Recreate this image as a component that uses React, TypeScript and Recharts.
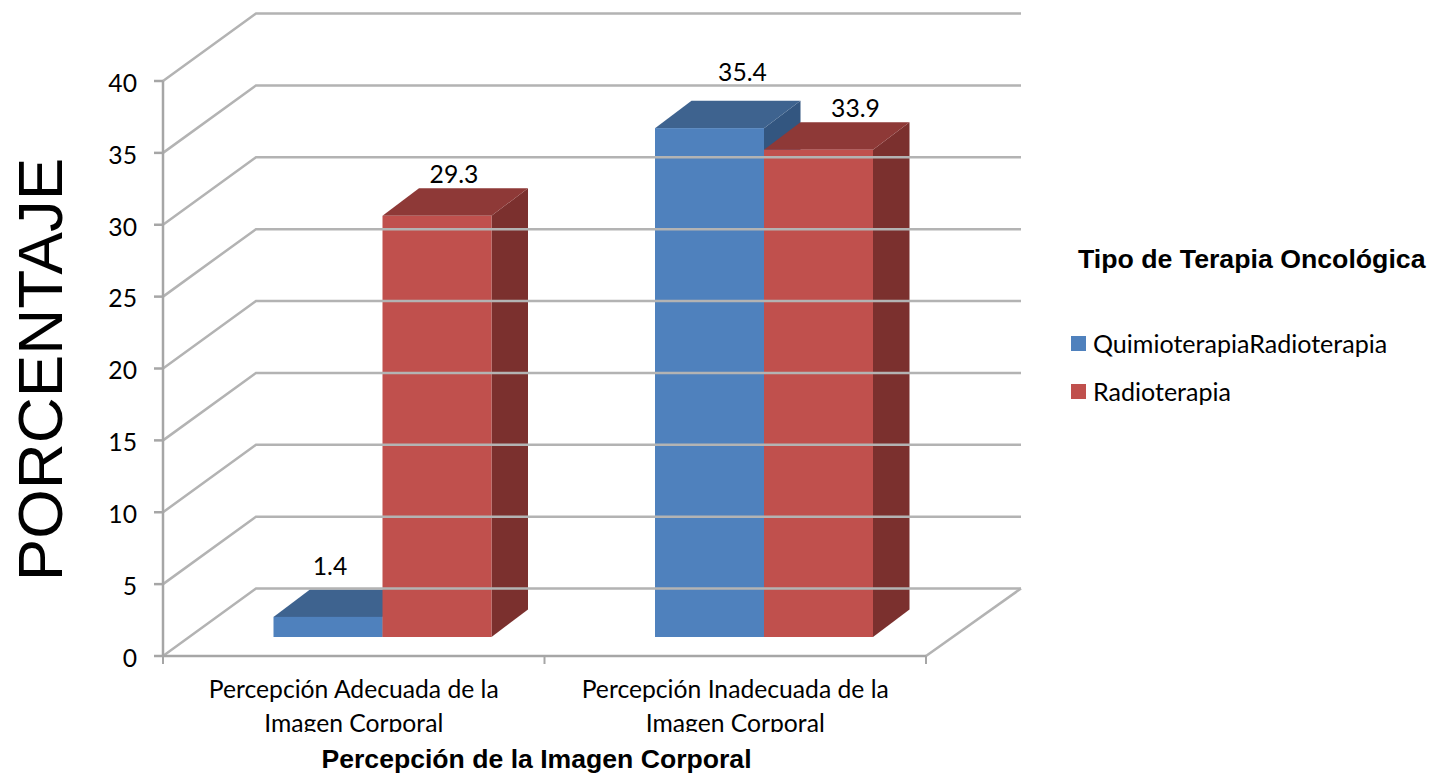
import { BarChart, Bar, XAxis, YAxis, Legend, LabelList, ReferenceLine } from "recharts";

const categories = [
  "Percepción Adecuada de la\nImagen Corporal",
  "Percepción Inadecuada de la\nImagen Corporal",
];
const quimioRadio = [1.4, 35.4];
const radio = [29.3, 33.9];
const yTicks = [0, 5, 10, 15, 20, 25, 30, 35, 40];

const chartData = categories.map((category, i) => ({
  category,
  quimioRadio: quimioRadio[i],
  radio: radio[i],
}));

const BODY_FONT = "Lato, sans-serif";
const TITLE_FONT = "'Liberation Sans', Arial, sans-serif";
const BODY_SIZE = 24.7;
const GRID = "#b3b3b3";
const AXIS = "#a6a6a6";

// fake 3D: how far the back wall and the bars sit behind the axis plane
const WALL_DX = 93;
const WALL_DY = -67.5;
const WALL_RIGHT_DX = 95;
const BAR_DX = 28.5;
const BAR_DY = -19;
const DEPTH_DX = 36.5;
const DEPTH_DY = -27.5;
const BAND_HALF = 190.75;

const blue = { front: "#4f81bd", top: "#3e638f", side: "#335680" };
const red = { front: "#c0504d", top: "#8e3937", side: "#7b302e" };

// label nudges from the bar's top centre, [series][category]
const blueNudge = [[2, -48.5], [33, -53.5]];
const redNudge = [[17, -39.5], [37, -38.5]];

function bar3d(colors: typeof blue) {
  return (props: any) => {
    const x = props.x + BAR_DX;
    const y = props.y + BAR_DY;
    const w = props.width;
    const h = props.height;
    const dx = DEPTH_DX;
    const dy = DEPTH_DY;
    return (
      <g>
        <polygon
          points={`${x + w},${y} ${x + w + dx},${y + dy} ${x + w + dx},${y + h + dy} ${x + w},${y + h}`}
          fill={colors.side}
        />
        <polygon
          points={`${x},${y} ${x + dx},${y + dy} ${x + w + dx},${y + dy} ${x + w},${y}`}
          fill={colors.top}
        />
        <rect x={x} y={y} width={w} height={h} fill={colors.front} />
      </g>
    );
  };
}

function wallLine(isFloor: boolean) {
  return (props: any) => {
    const { x1, y1, x2 } = props;
    const backY = y1 + WALL_DY;
    return (
      <g fill="none" stroke={GRID} strokeWidth={2.5}>
        <polyline points={`${x1},${y1} ${x1 + WALL_DX},${backY} ${x2 + WALL_RIGHT_DX},${backY}`} />
        {isFloor && <line x1={x2} y1={y1} x2={x2 + WALL_RIGHT_DX} y2={backY} />}
      </g>
    );
  };
}

function valueLabel(nudges: number[][]) {
  return (props: any) => {
    const { x, y, width, value, index } = props;
    const [nx, ny] = nudges[index];
    return (
      <text
        x={x + BAR_DX + width / 2 + nx}
        y={y + BAR_DY + ny}
        textAnchor="middle"
        dominantBaseline="middle"
        fontFamily={BODY_FONT}
        fontSize={BODY_SIZE}
        fill="#000"
      >
        {value}
      </text>
    );
  };
}

function CategoryTick(props: any) {
  const { x, y, payload, index } = props;
  const lines = String(payload.value).split("\n");
  const axisY = y - 8;
  return (
    <g>
      <line x1={x - BAND_HALF} y1={axisY} x2={x - BAND_HALF} y2={axisY + 8} stroke={AXIS} strokeWidth={2} />
      {index === categories.length - 1 && (
        <line x1={x + BAND_HALF} y1={axisY} x2={x + BAND_HALF} y2={axisY + 8} stroke={AXIS} strokeWidth={2} />
      )}
      <text
        textAnchor="middle"
        fontFamily={BODY_FONT}
        fontSize={BODY_SIZE}
        fill="#000"
        clipPath="url(#tick-clip)"
      >
        <tspan x={x} y={698}>{lines[0]}</tspan>
        <tspan x={x} y={732}>{lines[1]}</tspan>
      </text>
    </g>
  );
}

function LegendBox(props: any) {
  const { payload } = props;
  return (
    <div style={{ position: "relative", width: 360, height: 170 }}>
      <div
        style={{
          position: "absolute",
          left: 7,
          top: 0,
          fontFamily: TITLE_FONT,
          fontWeight: "bold",
          fontSize: 26.7,
          lineHeight: "28px",
          color: "#000",
          whiteSpace: "nowrap",
        }}
      >
        Tipo de Terapia Oncológica
      </div>
      {payload.map((item: any, i: number) => (
        <div key={item.value} style={{ position: "absolute", left: 0, top: 84 + i * 48, display: "flex", alignItems: "center", height: 28 }}>
          <span style={{ width: 15, height: 15, background: item.color, marginRight: 7 }} />
          <span style={{ fontFamily: BODY_FONT, fontSize: 25.05, color: "#000", whiteSpace: "nowrap" }}>{item.value}</span>
        </div>
      ))}
    </div>
  );
}

export default function App() {
  return (
    <div style={{ position: "absolute", left: 0, top: 0, width: 1431, height: 776, background: "#fff" }}>
      <BarChart
        width={1431}
        height={776}
        data={chartData}
        margin={{ top: 81, right: 505, bottom: 0, left: 0 }}
        barSize={109}
        barGap={0}
        barCategoryGap={0}
      >
        <defs>
          <clipPath id="tick-clip">
            <rect x={0} y={670} width={1431} height={62} />
          </clipPath>
        </defs>
        {yTicks.map((t) => (
          <ReferenceLine key={t} y={t} ifOverflow="visible" shape={wallLine(t === 0)} />
        ))}
        <XAxis
          dataKey="category"
          height={120}
          interval={0}
          stroke={AXIS}
          strokeWidth={2.5}
          tickLine={false}
          tick={CategoryTick}
          tickMargin={0}
          tickSize={8}
          label={{
            value: "Percepción de la Imagen Corporal",
            position: "insideBottom",
            dx: -8,
            offset: 8,
            style: { fontFamily: TITLE_FONT, fontWeight: "bold", fontSize: 26.6, fill: "#000" },
          }}
        />
        <YAxis
          width={163}
          domain={[0, 40]}
          ticks={yTicks}
          interval={0}
          stroke={AXIS}
          strokeWidth={2.5}
          tickSize={9}
          tickMargin={17}
          tick={{ fontFamily: BODY_FONT, fontSize: BODY_SIZE, fill: "#000", dy: 2 }}
          label={{
            value: "PORCENTAJE",
            angle: -90,
            position: "insideLeft",
            dx: 34,
            dy: 1,
            style: { fontFamily: TITLE_FONT, fontSize: 63.7, fill: "#000", textAnchor: "middle" },
          }}
        />
        <Legend
          layout="vertical"
          align="center"
          verticalAlign="middle"
          content={LegendBox}
          wrapperStyle={{ left: 1071, top: 245, width: 360 }}
        />
        <Bar dataKey="quimioRadio" name="QuimioterapiaRadioterapia" fill={blue.front} shape={bar3d(blue)} isAnimationActive={false}>
          <LabelList dataKey="quimioRadio" content={valueLabel(blueNudge)} />
        </Bar>
        <Bar dataKey="radio" name="Radioterapia" fill={red.front} shape={bar3d(red)} isAnimationActive={false}>
          <LabelList dataKey="radio" content={valueLabel(redNudge)} />
        </Bar>
      </BarChart>
    </div>
  );
}
